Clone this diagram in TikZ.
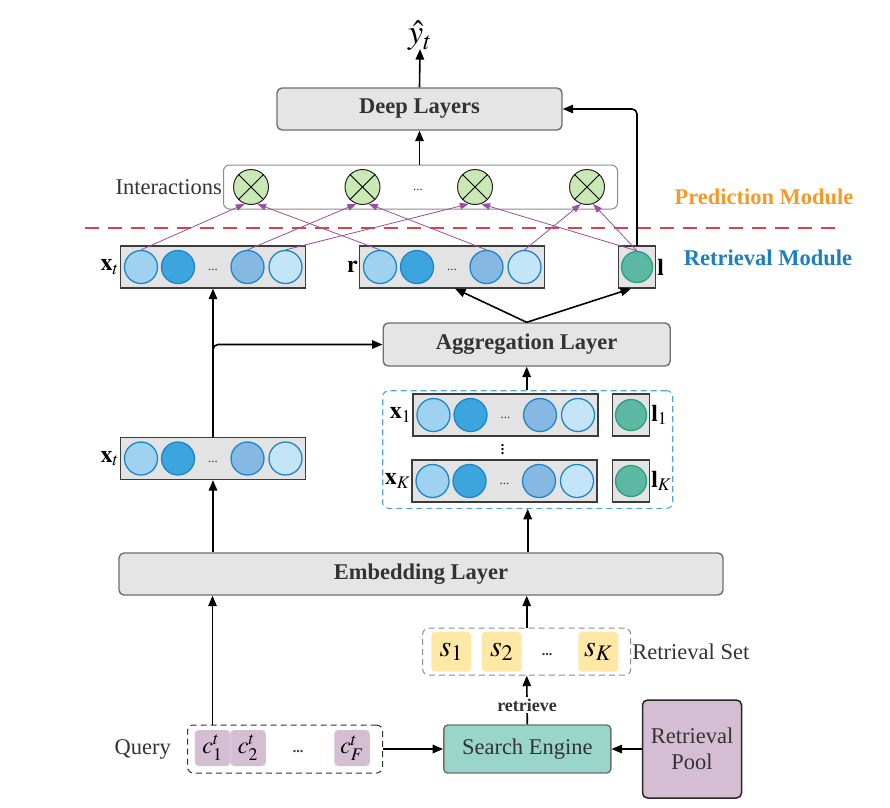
\documentclass[tikz,border=0pt]{standalone}
\usepackage{mathptmx}
\usepackage{fontspec}
\setmainfont{Liberation Serif}
\usetikzlibrary{arrows.meta,calc}
\definecolor{layergray}{HTML}{E5E5E5}
\definecolor{layerborder}{HTML}{6E6E6E}
\definecolor{vecfill}{HTML}{E3E3E3}
\definecolor{vecborder}{HTML}{3C3C3C}
\definecolor{cAf}{HTML}{9ED2F0}
\definecolor{cBf}{HTML}{3DA5DE}
\definecolor{cCf}{HTML}{85B9E3}
\definecolor{cDf}{HTML}{C4E5F7}
\definecolor{cborder}{HTML}{1B87C9}
\definecolor{greenf}{HTML}{5CB8A2}
\definecolor{greenb}{HTML}{2E9E80}
\definecolor{ixf}{HTML}{C9E8B4}
\definecolor{purp}{HTML}{9C4E9E}
\definecolor{reddash}{HTML}{D9424A}
\definecolor{orangetxt}{HTML}{F39A2B}
\definecolor{bluetxt}{HTML}{1D7FC0}
\definecolor{bluedash}{HTML}{4FA5DE}
\definecolor{tealf}{HTML}{9AD5CA}
\definecolor{poolf}{HTML}{D5BDD4}
\definecolor{sboxf}{HTML}{FFE8A6}
\definecolor{graydash}{HTML}{8A8A8A}
\definecolor{txtgray}{HTML}{333333}
\newcommand{\fsz}[1]{\fontsize{#1}{#1}\selectfont}
\newcommand{\vecrow}[3]{%
  \node[vecbox] (#1) at (#2,#3) {};
  \node[cA] (#1a) at ($(#1.center)+(-72,0)$) {};
  \node[cB] (#1b) at ($(#1.center)+(-35,0)$) {};
  \node[cC] (#1c) at ($(#1.center)+(34.5,0)$) {};
  \node[cD] (#1d) at ($(#1.center)+(72.5,0)$) {};
  \node[vdots] (#1dots) at ($(#1.center)+(0,3)$) {...};
}
\begin{document}
\begin{tikzpicture}[x=1pt,y=-1pt,
  layer/.style={draw=layerborder, fill=layergray, rounded corners=5pt, line width=1.4pt,
     text=txtgray, font=\fsz{22.5}\bfseries, inner sep=0},
  vecbox/.style={draw=vecborder, fill=vecfill, line width=1.2pt, minimum width=185pt, minimum height=42pt, inner sep=0},
  lbox/.style={draw=vecborder, fill=vecfill, line width=1.2pt, minimum width=37pt, minimum height=42pt, inner sep=0},
  circ/.style={circle, draw=cborder, line width=1.3pt, minimum size=33pt, inner sep=0},
  cA/.style={circ, fill=cAf}, cB/.style={circ, fill=cBf},
  cC/.style={circ, fill=cCf}, cD/.style={circ, fill=cDf},
  gc/.style={circle, draw=greenb, fill=greenf, line width=1.3pt, minimum size=31pt, inner sep=0},
  ix/.style={circle, draw=black!85, fill=ixf, line width=1pt, minimum size=35pt, inner sep=0},
  vdots/.style={font=\fsz{13}, text=txtgray, inner sep=0},
  lab/.style={font=\fsz{22.5}, text=txtgray},
  mlab/.style={font=\fsz{24}, inner sep=1pt},
  arr/.style={line width=1.6pt, -{Triangle[length=10.5pt,width=8.5pt]}},
  parr/.style={draw=purp, line width=0.8pt, -{Triangle[length=9pt,width=6.5pt]}},
  modlab/.style={font=\fsz{22.5}\bfseries},
  sbox/.style={fill=sboxf, rounded corners=4pt, minimum width=40pt, minimum height=40pt, inner sep=0, font=\fsz{30}},
  cbox/.style={fill=poolf, rounded corners=4pt, minimum width=35.5pt, minimum height=36pt, inner sep=0, font=\fsz{24}},
  ]
\useasboundingbox (0,0) rectangle (890,807);

% ---------- top ----------
\node[font=\fsz{34}, inner sep=0] (yhat) at (420,36) {$\hat{y}_t$};
\node[layer, minimum width=285pt, minimum height=42pt] (dl) at (419.5,109) {Deep Layers};
\node[draw=black!45, rounded corners=6pt, line width=1pt, minimum width=394pt, minimum height=44pt, inner sep=0] (ib) at (420.5,187) {};
\node[lab, anchor=east, inner sep=1pt] (iblab) at (ib.west) {Interactions};
\foreach \i/\x in {1/251,2/362.5,3/475,4/587}{
  \node[ix] (i\i) at (\x,187) {};
  \draw[line width=1pt] (i\i.45) -- (i\i.225) (i\i.135) -- (i\i.-45);
}
\node[vdots] (idots) at (418,190) {...};

\draw[arr] (dl.north) -- ($(yhat.south)+(0,-2)$);
\draw[arr] (ib.north -| dl.south) -- (dl.south);

% module separator
\coordinate (sepL) at (85,228);
\coordinate (sepR) at (840,228);
\draw[reddash, line width=1.3pt, dash pattern=on 14pt off 9pt] (sepL) -- (sepR);
\node[modlab, text=orangetxt] (pm) at (764,197) {Prediction Module};
\node[modlab, text=bluetxt] (rm) at (768,258) {Retrieval Module};

% ---------- retrieval outputs ----------
\vecrow{xt}{213}{267}
\node[mlab, anchor=east] at (xt.west) {$\mathbf{x}_t$};
\vecrow{rr}{452}{267}
\node[mlab, anchor=east] at (rr.west) {$\mathbf{r}$};
\node[lbox] (lb) at (637,267) {};
\node[gc] (lc) at (lb.center) {};
\node[mlab, anchor=west] at (lb.east) {$\mathbf{l}$};

% purple interaction arrows
\draw[parr] (xta.north) -- (i1.-110);
\draw[parr] (xtc.north) -- (i2.-110);
\draw[parr] (xtd.north) -- (i3.-110);
\draw[parr] (rra.north) -- (i1.-70);
\draw[parr] (rrc.north) -- (i2.-70);
\draw[parr] (rrd.north) -- (i4.-110);
\draw[parr] (lc.north) -- (i3.-70);
\draw[parr] (lc.north) -- (i4.-70);

\draw[arr, rounded corners=5pt] (lb.north) |- (dl.east);

% ---------- aggregation ----------
\node[layer, minimum width=287pt, minimum height=43pt] (agg) at (526.7,344.5) {Aggregation Layer};
\draw[arr] (agg.north) -- ($(rr.south)+(3,0)$);
\draw[arr] (agg.north) -- ($(lb.south)+(-6,0)$);

\node[draw=bluedash, dashed, dash pattern=on 6pt off 4pt, line width=1.1pt, rounded corners=6pt,
      minimum width=290pt, minimum height=117.6pt, inner sep=0] (bd) at (527.7,449.5) {};
\vecrow{xo}{505.5}{415}
\node[mlab, anchor=east] at (xo.west) {$\mathbf{x}_1$};
\node[lbox] (l1b) at (631,415) {};
\node[gc] (l1c) at (l1b.center) {};
\node[mlab, anchor=west] at (l1b.east) {$\mathbf{l}_1$};
\node[font=\fsz{14}\bfseries, inner sep=0] (vd) at (502.7,447) {$\vdots$};
\vecrow{xk}{504.5}{481}
\node[mlab, anchor=east] at (xk.west) {$\mathbf{x}_K$};
\node[lbox] (lkb) at (631,481) {};
\node[gc] (lkc) at (lkb.center) {};
\node[mlab, anchor=west] at (lkb.east) {$\mathbf{l}_K$};

\draw[arr] (bd.north -| agg.south) -- (agg.south);

\vecrow{xl}{213}{458.5}
\node[mlab, anchor=east] at (xl.west) {$\mathbf{x}_t$};
\draw[arr] (xl.north) -- (xt.south);
\draw[arr, rounded corners=5pt] (xl.north) |- (agg.west);

% ---------- embedding ----------
\node[layer, minimum width=604pt, minimum height=42pt] (emb) at (421,574) {Embedding Layer};
\draw[arr] (bd.south |- emb.north) -- (bd.south);
\draw[arr] (xl.south |- emb.north) -- (xl.south);

% ---------- retrieval set ----------
\node[draw=graydash, dashed, dash pattern=on 6pt off 4pt, line width=1pt, rounded corners=6pt,
      minimum width=208pt, minimum height=47pt, inner sep=0] (rset) at (526.7,651.7) {};
\node[sbox] (s1) at (451.3,651.7) {$s_1$};
\node[sbox] (s2) at (501.7,651.7) {$s_2$};
\node[sbox] (sk) at (598.3,651.7) {$s_K$};
\node[vdots, font=\fsz{14}\bfseries] (sdots) at (547,655) {...};
\node[lab, anchor=west, inner sep=1pt] (rsetlab) at (rset.east) {Retrieval Set};
\draw[arr] (rset.north) -- (rset.north |- emb.south);

% ---------- search engine ----------
\node[draw=layerborder, fill=tealf, rounded corners=4pt, line width=1.4pt, minimum width=167pt, minimum height=48pt,
      inner sep=0, font=\fsz{22.5}, text=txtgray] (se) at (527.3,749) {Search Engine};
\node[draw=black!85, fill=poolf, rounded corners=5pt, line width=1.5pt, minimum width=99pt, minimum height=98pt,
      inner sep=0, font=\fsz{22.5}, text=txtgray, align=center] (pool) at (692,749) {Retrieval\\[3pt]Pool};
\draw[arr] (se.north) -- node[pos=0.4, fill=white, inner sep=1.5pt, font=\fsz{18}\bfseries, text=txtgray] (retr) {retrieve} (rset.south);
\draw[arr] (pool.west) -- (se.east);

% ---------- query ----------
\node[draw=black!80, dashed, dash pattern=on 6pt off 4pt, line width=1pt, rounded corners=6pt,
      minimum width=195pt, minimum height=48pt, inner sep=0] (query) at (285,749) {};
\node[cbox] (c1) at (212.5,748) {$c^t_1$};
\node[cbox] (c2) at (248,748) {$c^t_2$};
\node[cbox] (cf) at (352,748) {$c^t_F$};
\node[vdots, font=\fsz{14}\bfseries] (qdots) at (298,752) {...};
\node[lab, anchor=east, inner sep=1pt] (qlab) at ($(query.west)+(-15,0)$) {Query};
\draw[arr] (c1.north |- query.north) -- (c1.north |- emb.south);
\draw[arr] (query.east) -- (se.west);

\end{tikzpicture}
\end{document}
